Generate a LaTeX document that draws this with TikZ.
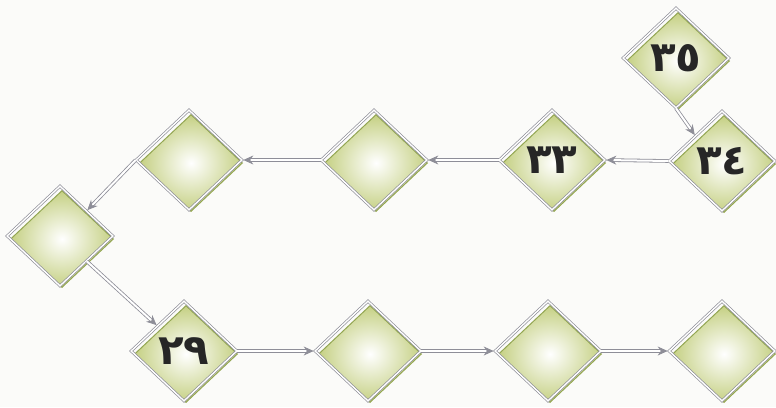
\documentclass[tikz,border=0pt]{standalone}
\usepackage{fontspec}
\newfontfamily\arabicfont[Script=Arabic]{DejaVu Sans}
\usetikzlibrary{shapes.geometric,arrows.meta}
\definecolor{dgreen}{HTML}{C5D083}
\definecolor{dedge}{HTML}{93A652}
\definecolor{outl}{HTML}{8E8E98}
\definecolor{bg}{HTML}{FBFBF9}
\tikzset{
  fillD/.style={diamond, minimum width=103pt, minimum height=97pt, inner sep=0pt,
    inner color=white, outer color=dgreen, draw=dedge, line width=1pt},
  outD/.style={diamond, minimum width=106pt, minimum height=100pt, inner sep=0pt,
    draw=outl, double=white, double distance=1.4pt, line width=0.7pt,
    font=\arabicfont\bfseries\fontsize{42}{42}\selectfont, text=black!85},
  conn/.style={draw=outl, double=white, double distance=2pt, line width=0.8pt,
    -{Stealth[length=10pt,width=9pt]}, shorten >=1pt}
}
\begin{document}
\begin{tikzpicture}[x=1pt,y=-1pt]
\fill[bg] (0,0) rectangle (776,407);
\useasboundingbox (0,0) rectangle (776,407);
% green bodies
\foreach \n/\x/\y in {a/676/58, b/722/161, c/552/160, d/374/160, e/189/160, f/60/236, g/184/351, h/368/351, i/548/351, j/722/351}{
  \node[fillD] (\n f) at (\x+2,\y+3) {};
}
% outlines with labels
\node[outD] (n35) at (676,58) {٣٥};
\node[outD] (n34) at (722,161) {٣٤};
\node[outD] (n33) at (552,160) {٣٣};
\node[outD] (nm) at (374,160) {};
\node[outD] (nul) at (189,160) {};
\node[outD] (nl) at (60,236) {};
\node[outD] (n29) at (184,351) {٢٩};
\node[outD] (b2) at (368,351) {};
\node[outD] (b3) at (548,351) {};
\node[outD] (b4) at (722,351) {};
% connectors
\draw[conn] (n35.south) -- (n34.north west);
\draw[conn] (n34.west) -- (n33.east);
\draw[conn] (n33.west) -- (nm.east);
\draw[conn] (nm.west) -- (nul.east);
\draw[conn] (nul.west) -- (nl.north east);
\draw[conn] (nl.south east) -- (n29.north west);
\draw[conn] (n29.east) -- (b2.west);
\draw[conn] (b2.east) -- (b3.west);
\draw[conn] (b3.east) -- (b4.west);
\end{tikzpicture}
\end{document}
